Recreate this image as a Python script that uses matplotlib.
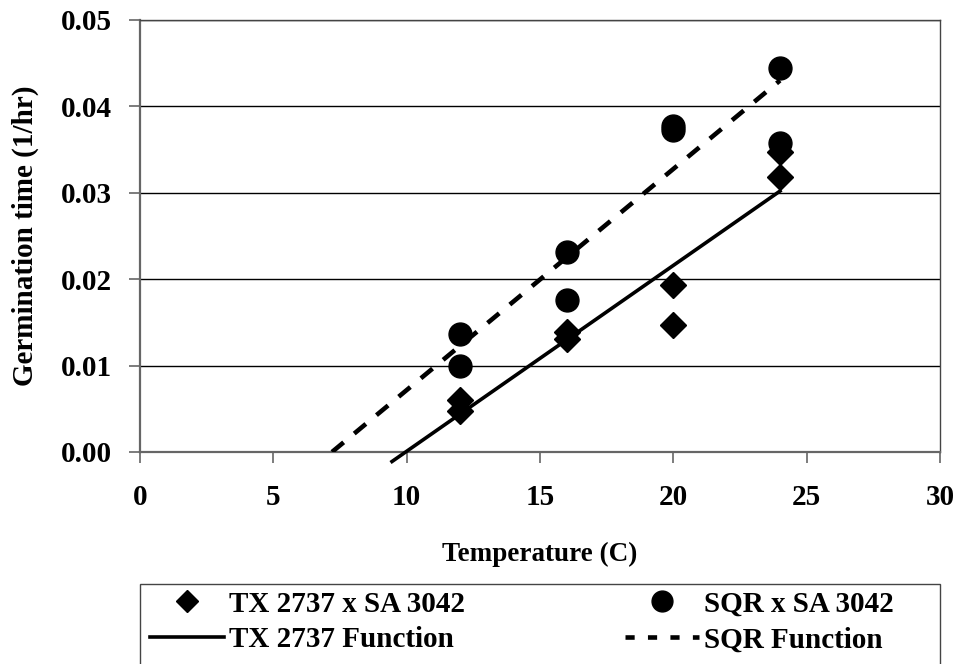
import matplotlib
matplotlib.use("Agg")
import matplotlib.pyplot as plt
from matplotlib.lines import Line2D
from matplotlib.patches import Rectangle

# observed germination rates
TX_TEMP = [12, 12, 16, 16, 20, 20, 24, 24]
TX_RATE = [0.0060, 0.0047, 0.0139, 0.0131, 0.0193, 0.0147, 0.0347, 0.0318]
SQR_TEMP = [12, 12, 16, 16, 20, 20, 24, 24]
SQR_RATE = [0.0136, 0.0099, 0.0231, 0.0176, 0.0377, 0.0373, 0.0444, 0.0358]

# fitted functions (end points of each line)
TX_FUNC_TEMP = [9.45, 24]
TX_FUNC_RATE = [-0.0011, 0.0302]
SQR_FUNC_TEMP = [7.2, 24]
SQR_FUNC_RATE = [0.0, 0.0430]

X_TICKS = [0, 5, 10, 15, 20, 25, 30]
Y_TICKS = [0.00, 0.01, 0.02, 0.03, 0.04, 0.05]

plt.rcParams["font.family"] = ["Liberation Serif", "DejaVu Serif"]
plt.rcParams["font.weight"] = "bold"

W, H = 961, 664
fig = plt.figure(figsize=(W / 100, H / 100), dpi=100)
ax = fig.add_axes((140 / W, 1 - 452 / H, 800 / W, 432 / H))

ax.plot(TX_FUNC_TEMP, TX_FUNC_RATE, color="black", linewidth=2.6, clip_on=False, zorder=3)
ax.plot(SQR_FUNC_TEMP, SQR_FUNC_RATE, color="black", linewidth=3.3,
        linestyle=(0, (3.3, 3.0)), solid_capstyle="butt", zorder=3)
ax.plot(TX_TEMP, TX_RATE, linestyle="none", marker="D", markersize=13, color="black", zorder=4)
ax.plot(SQR_TEMP, SQR_RATE, linestyle="none", marker="o", markersize=16.5, color="black", zorder=4)

ax.set_xlim(0, 30)
ax.set_ylim(0, 0.05)
ax.set_xticks(X_TICKS)
ax.set_yticks(Y_TICKS)
ax.set_xticklabels([str(t) for t in X_TICKS])
ax.set_yticklabels([f"{t:.2f}" for t in Y_TICKS])
ax.tick_params(axis="both", direction="out", length=8, width=1.2, color="#666666", labelsize=21)
ax.tick_params(axis="x", pad=15)
ax.tick_params(axis="y", pad=12)
ax.yaxis.grid(True, color="black", linewidth=1.0)
ax.set_axisbelow(True)
for side in ("top", "right"):
    ax.spines[side].set_color("#444444")
    ax.spines[side].set_linewidth(1.0)
for side in ("left", "bottom"):
    ax.spines[side].set_color("#666666")
    ax.spines[side].set_linewidth(1.6)

ax.set_xlabel("Temperature (C)", fontsize=19.5, fontweight="bold", labelpad=22)
ax.set_ylabel("Germination time (1/hr)", fontsize=21, fontweight="bold", labelpad=16)

# legend box spans the plot width and runs off the bottom edge
fig.patches.append(Rectangle((140 / W, -0.02), 800 / W, 1 - 584 / H + 0.02,
                             transform=fig.transFigure, facecolor="white",
                             edgecolor="#444444", linewidth=1.0, zorder=0))

legend_kw = dict(
    loc="center left",
    ncol=1,
    fontsize=21,
    frameon=False,
    handlelength=2.55,
    handletextpad=0.15,
    labelspacing=0.3,
    borderpad=0.0,
    borderaxespad=0.0,
)
left_handles = [
    Line2D([], [], linestyle="none", marker="D", markersize=11, color="black"),
    Line2D([], [], color="black", linewidth=2.6),
]
right_handles = [
    Line2D([], [], linestyle="none", marker="o", markersize=15, color="black"),
    Line2D([], [], color="black", linewidth=3.3, linestyle=(0, (2.0, 2.9))),
]
fig.legend(left_handles, ["TX 2737 x SA 3042", "TX 2737 Function"],
           bbox_to_anchor=(150 / W, 1 - 622 / H), **legend_kw)
fig.legend(right_handles, ["SQR x SA 3042", "SQR Function"],
           bbox_to_anchor=(625 / W, 1 - 622 / H), **legend_kw)

fig.savefig("out.png", dpi=100)
